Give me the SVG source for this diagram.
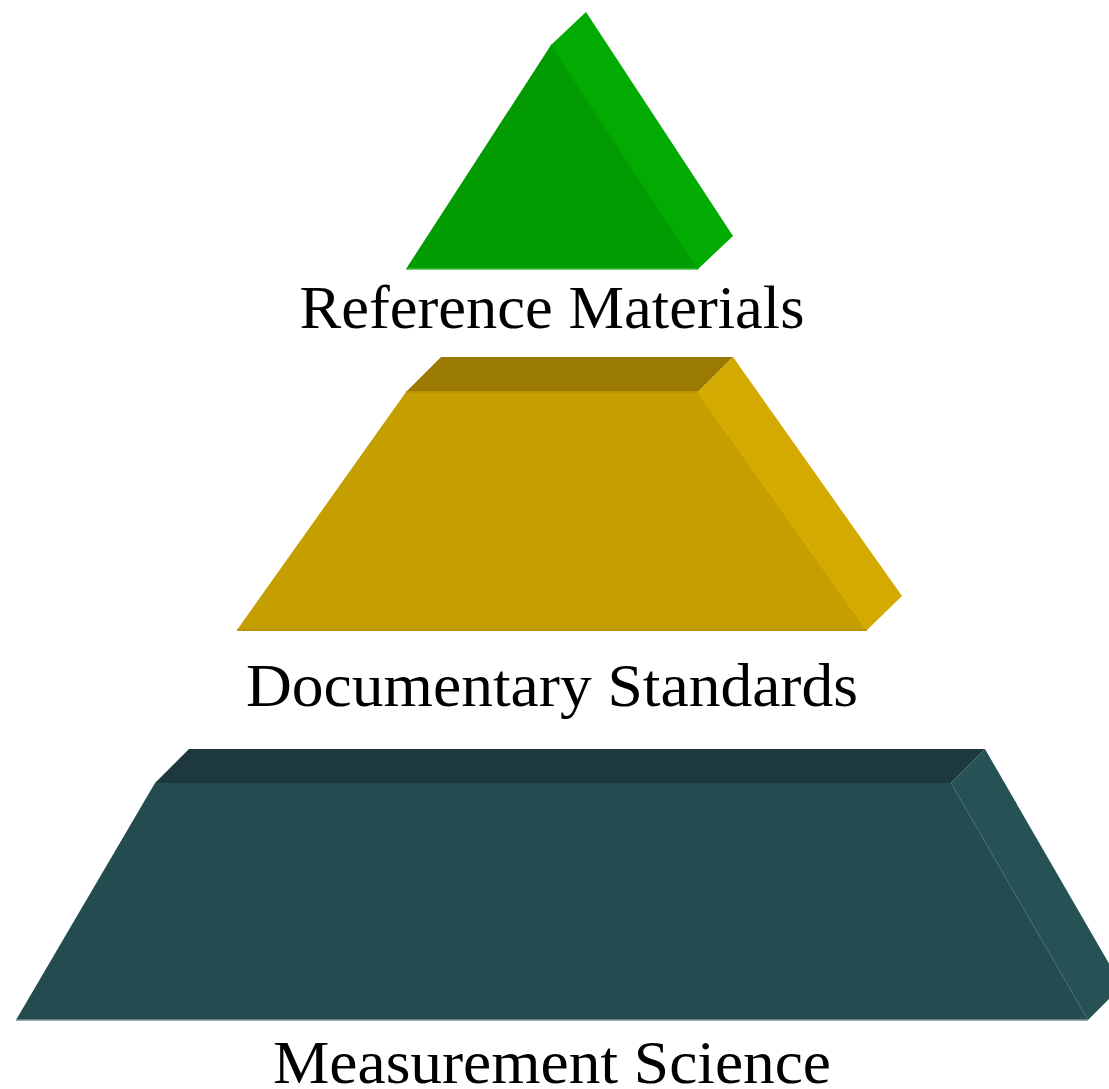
<svg xmlns="http://www.w3.org/2000/svg" width="1109" height="1089" viewBox="0 0 1109 1089">
<style>
.lbl{font-family:"Liberation Serif","Times New Roman",serif;font-size:62px;fill:#000;text-anchor:middle}
.g-front{fill:#029B02}.g-side{fill:#02AB02}
.y-front{fill:#C59E00}.y-top{fill:#9A7A00}.y-side{fill:#D4AA00}
.t-front{fill:#244C50}.t-top{fill:#1E393D}.t-side{fill:#265256}
</style>
<rect width="1109" height="1089" fill="#fff"/>
<g id="reference-materials">
<polygon class="g-side" points="551,45 586,12 733,236 698,269"/>
<polygon class="g-front" points="551,45 698,269 406,269"/>
<line x1="406" y1="269" x2="698" y2="269" stroke="#3CBF3C" stroke-width="1.5"/>
<line x1="551" y1="45" x2="698" y2="269" stroke="#03A503" stroke-width="1.5"/>
<text class="lbl" x="552" y="328" textLength="505" lengthAdjust="spacingAndGlyphs">Reference Materials</text>
</g>
<g id="documentary-standards">
<polygon class="y-top" points="406,392 441,357 733,357 698,392"/>
<polygon class="y-side" points="698,392 733,357 902,596 867,630"/>
<polygon class="y-front" points="406,392 698,392 867,630 237,630"/>
<line x1="237" y1="630" x2="867" y2="630" stroke="#B89200" stroke-width="2"/>
<line x1="406" y1="392" x2="698" y2="392" stroke="#BA9400" stroke-width="2"/>
<line x1="698" y1="392" x2="867" y2="630" stroke="#D8AD00" stroke-width="1.5"/>
<text class="lbl" x="552" y="706" textLength="612" lengthAdjust="spacingAndGlyphs">Documentary Standards</text>
</g>
<g id="measurement-science">
<polygon class="t-top" points="155,783 189,749 985,749 951,783"/>
<polygon class="t-side" points="951,783 985,749 1122,986 1088,1020"/>
<polygon class="t-front" points="155,783 951,783 1088,1020 16,1020"/>
<line x1="16" y1="1020" x2="1088" y2="1020" stroke="#7A9597" stroke-width="1.5"/>
<text class="lbl" x="552" y="1083" textLength="558" lengthAdjust="spacingAndGlyphs">Measurement Science</text>
</g>
<g id="connectors"/>
</svg>
